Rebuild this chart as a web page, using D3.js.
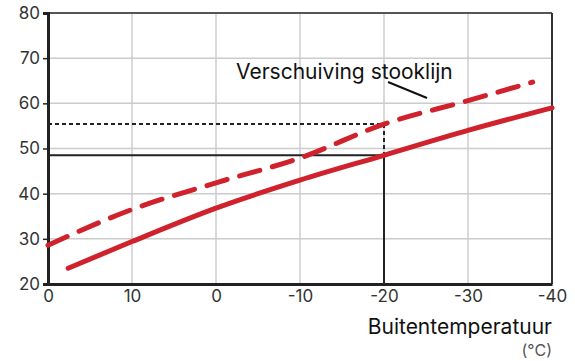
<!DOCTYPE html>
<html>
<head>
<meta charset="utf-8">
<script src="https://cdn.jsdelivr.net/npm/d3@7"></script>
<style>
  body { margin: 0; background: #fff; }
  svg { font-family: Inter, "Open Sans", sans-serif; }
</style>
</head>
<body>
<div class="main"></div>
<script>
// outdoor temperature (x) and flow temperature (y)
const xTicks = [20, 10, 0, -10, -20, -30, -40];
const xTickLabels = ["0", "10", "0", "-10", "-20", "-30", "-40"];
const yTicks = [20, 30, 40, 50, 60, 70, 80];

const curveX = [17.6, 10, 0, -10, -20, -30, -40];
const curveY = [23.5, 29.4, 36.8, 43.0, 48.5, 54.0, 59.0];

const shiftedX = [20, 10, 0, -10, -20, -30, -37.7];
const shiftedY = [28.6, 36.5, 42.4, 47.9, 55.4, 60.6, 64.7];

// reading point
const refX = -20, refY = 48.5, refShiftedY = 55.4;

const labelText = "Verschuiving stooklijn";
const xTitle = "Buitentemperatuur";
const xUnit = "(°C)";

const width = 575, height = 361;
const margin = { top: 13, right: 23, bottom: 77, left: 48 };

const svg = d3.select(".main").append("svg")
    .attr("width", width)
    .attr("height", height);

const x = d3.scaleLinear()
    .domain([20, -40])
    .range([margin.left, width - margin.right]);

const y = d3.scaleLinear()
    .domain([20, 80])
    .range([height - margin.bottom, margin.top]);

const red = "#cf222c";

// grid
svg.append("g")
    .selectAll("line")
    .data(xTicks)
    .enter().append("line")
    .attr("x1", d => x(d)).attr("x2", d => x(d))
    .attr("y1", y(80)).attr("y2", y(20))
    .attr("stroke", "#cccccc").attr("stroke-width", 1.5);

svg.append("g")
    .selectAll("line")
    .data(yTicks)
    .enter().append("line")
    .attr("x1", x(20)).attr("x2", x(-40))
    .attr("y1", d => y(d)).attr("y2", d => y(d))
    .attr("stroke", "#cccccc").attr("stroke-width", 1.5);

// frame top / right
svg.append("line")
    .attr("x1", x(20)).attr("x2", x(-40))
    .attr("y1", y(80)).attr("y2", y(80))
    .attr("stroke", "#555").attr("stroke-width", 2);
svg.append("line")
    .attr("x1", x(-40)).attr("x2", x(-40))
    .attr("y1", y(80)).attr("y2", y(20))
    .attr("stroke", "#333").attr("stroke-width", 2);

// y axis
const yAxis = svg.append("g")
    .attr("transform", "translate(" + margin.left + ",0)")
    .call(d3.axisLeft(y).tickValues(yTicks).tickSize(5).tickPadding(3));
yAxis.select(".domain").attr("stroke", "#222").attr("stroke-width", 3);
yAxis.selectAll(".tick line").attr("stroke", "#222").attr("stroke-width", 1.5);
yAxis.selectAll("text")
    .attr("font-size", 17)
    .attr("fill", "#333")
    .attr("font-family", "Inter, sans-serif");

// x axis
const xAxis = svg.append("g")
    .attr("transform", "translate(0," + (height - margin.bottom) + ")")
    .call(d3.axisBottom(x).tickValues(xTicks)
        .tickFormat((d, i) => xTickLabels[i]).tickSize(0).tickPadding(6));
xAxis.select(".domain").attr("stroke", "#222").attr("stroke-width", 3);
xAxis.selectAll("text")
    .attr("font-size", 17)
    .attr("fill", "#333")
    .attr("font-family", "Inter, sans-serif");

// reference lines
svg.append("path")
    .attr("d", d3.line()([[x(20), y(refY)], [x(refX), y(refY)], [x(refX), y(20)]]))
    .attr("fill", "none").attr("stroke", "#222").attr("stroke-width", 2);

svg.append("path")
    .attr("d", d3.line()([[x(20), y(refShiftedY)], [x(refX), y(refShiftedY)], [x(refX), y(refY)]]))
    .attr("fill", "none").attr("stroke", "#222").attr("stroke-width", 2)
    .attr("stroke-dasharray", "4,3");

// curves
const line = d3.line()
    .x(d => x(d[0]))
    .y(d => y(d[1]))
    .curve(d3.curveMonotoneX);

svg.append("path")
    .attr("d", line(d3.zip(curveX, curveY)))
    .attr("fill", "none").attr("stroke", red)
    .attr("stroke-width", 5).attr("stroke-linecap", "round");

svg.append("path")
    .attr("d", line(d3.zip(shiftedX, shiftedY)))
    .attr("fill", "none").attr("stroke", red)
    .attr("stroke-width", 5).attr("stroke-linecap", "round")
    .attr("stroke-dasharray", "21,13");

// annotation
svg.append("text")
    .text(labelText)
    .attr("x", 236).attr("y", 79)
    .attr("font-size", 21)
    .attr("fill", "#111");

svg.append("line")
    .attr("x1", 388).attr("y1", 82)
    .attr("x2", 427).attr("y2", 98)
    .attr("stroke", "#111").attr("stroke-width", 2);

// axis titles
svg.append("text")
    .text(xTitle)
    .attr("x", x(-40)).attr("y", 334)
    .attr("text-anchor", "end")
    .attr("font-size", 21)
    .attr("fill", "#111");

svg.append("text")
    .text(xUnit)
    .attr("x", x(-40)).attr("y", 356)
    .attr("text-anchor", "end")
    .attr("font-size", 16)
    .attr("fill", "#555");
</script>
</body>
</html>
